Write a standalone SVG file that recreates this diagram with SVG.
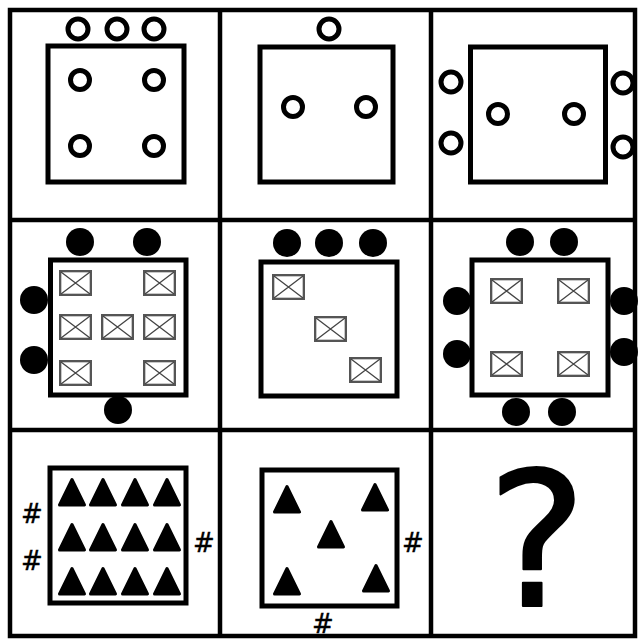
<svg xmlns="http://www.w3.org/2000/svg" width="640" height="641" viewBox="0 0 640 641">
<style>
.grid{fill:none;stroke:#000;stroke-width:4.5}
.sq{fill:#fff;stroke:#000;stroke-width:5}
.oc{fill:#fff;stroke:#000;stroke-width:5}
.fc{fill:#000}
.hash{font-family:"DejaVu Sans",sans-serif;font-size:26px;fill:#000;stroke:#000;stroke-width:0.4;text-anchor:middle}
.q{font-family:"DejaVu Sans",sans-serif;font-size:188px;fill:#000;stroke:#000;stroke-width:2;stroke-linejoin:round;text-anchor:middle}
</style>
<defs>
<g id="ico">
<rect x="0" y="0" width="31" height="24" fill="#fff" stroke="#555" stroke-width="2"/>
<rect x="1.5" y="1.5" width="28" height="21" fill="none" stroke="#bbb" stroke-width="0.8"/>
<path d="M1 1 L30 23 M30 1 L1 23" stroke="#444" stroke-width="1.3" fill="none"/>
</g>
<path id="tri" d="M0 1.5 L12.5 27 L-12.5 27 Z" fill="#000" stroke="#000" stroke-width="3" stroke-linejoin="round"/>
</defs>
<rect width="640" height="641" fill="#fff"/>
<g id="grid">
<rect class="grid" x="10" y="10" width="625" height="626"/>
<path class="grid" d="M220 10 V636 M431 10 V636 M10 220 H635 M10 430 H635"/>
</g>
<g id="cell1">
<rect class="sq" x="48" y="46" width="136" height="136"/>
<circle class="oc" cx="78" cy="29" r="10"/>
<circle class="oc" cx="117" cy="29" r="10"/>
<circle class="oc" cx="154" cy="29" r="10"/>
<circle class="oc" cx="80" cy="80" r="9.5"/>
<circle class="oc" cx="154" cy="80" r="9.5"/>
<circle class="oc" cx="80" cy="146" r="9.5"/>
<circle class="oc" cx="154" cy="146" r="9.5"/>
</g>
<g id="cell2">
<rect class="sq" x="260" y="47" width="133" height="135"/>
<circle class="oc" cx="329" cy="29" r="10"/>
<circle class="oc" cx="293" cy="107" r="9.5"/>
<circle class="oc" cx="366" cy="107" r="9.5"/>
</g>
<g id="cell3">
<rect class="sq" x="470.5" y="47" width="135" height="135"/>
<circle class="oc" cx="451" cy="82" r="10"/>
<circle class="oc" cx="451" cy="143" r="10"/>
<circle class="oc" cx="623" cy="83" r="10"/>
<circle class="oc" cx="623" cy="147" r="10"/>
<circle class="oc" cx="498" cy="114" r="9.5"/>
<circle class="oc" cx="574" cy="114" r="9.5"/>
</g>
<g id="cell4">
<rect class="sq" x="50.5" y="260" width="135.5" height="135"/>
<circle class="fc" cx="80" cy="242" r="14"/>
<circle class="fc" cx="147" cy="242" r="14"/>
<circle class="fc" cx="34" cy="300" r="14"/>
<circle class="fc" cx="34" cy="360" r="14"/>
<circle class="fc" cx="118" cy="410" r="14"/>
<use href="#ico" x="60" y="271"/>
<use href="#ico" x="144" y="271"/>
<use href="#ico" x="60" y="315"/>
<use href="#ico" x="102" y="315"/>
<use href="#ico" x="144" y="315"/>
<use href="#ico" x="60" y="361"/>
<use href="#ico" x="144" y="361"/>
</g>
<g id="cell5">
<rect class="sq" x="261" y="262" width="136" height="134"/>
<circle class="fc" cx="287" cy="243" r="14"/>
<circle class="fc" cx="329" cy="243" r="14"/>
<circle class="fc" cx="373" cy="243" r="14"/>
<use href="#ico" x="273" y="275"/>
<use href="#ico" x="315" y="317"/>
<use href="#ico" x="350" y="358"/>
</g>
<g id="cell6">
<rect class="sq" x="472" y="260" width="136" height="135"/>
<circle class="fc" cx="520" cy="242" r="14"/>
<circle class="fc" cx="564" cy="242" r="14"/>
<circle class="fc" cx="457" cy="301" r="14"/>
<circle class="fc" cx="457" cy="354" r="14"/>
<circle class="fc" cx="624" cy="301" r="14"/>
<circle class="fc" cx="624" cy="352" r="14"/>
<circle class="fc" cx="516" cy="412" r="14"/>
<circle class="fc" cx="562" cy="412" r="14"/>
<use href="#ico" x="491" y="279"/>
<use href="#ico" x="558" y="279"/>
<use href="#ico" x="491" y="352"/>
<use href="#ico" x="558" y="352"/>
</g>
<g id="cell7">
<rect class="sq" x="50" y="468" width="136" height="135"/>
<use href="#tri" x="72" y="478"/>
<use href="#tri" x="103" y="478"/>
<use href="#tri" x="135" y="478"/>
<use href="#tri" x="167" y="478"/>
<use href="#tri" x="72" y="523"/>
<use href="#tri" x="103" y="523"/>
<use href="#tri" x="135" y="523"/>
<use href="#tri" x="167" y="523"/>
<use href="#tri" x="72" y="567"/>
<use href="#tri" x="103" y="567"/>
<use href="#tri" x="135" y="567"/>
<use href="#tri" x="167" y="567"/>
<text class="hash" x="32" y="523">#</text>
<text class="hash" x="32" y="570">#</text>
<text class="hash" x="204" y="552">#</text>
</g>
<g id="cell8">
<rect class="sq" x="262" y="470" width="135" height="136"/>
<use href="#tri" x="287" y="485"/>
<use href="#tri" x="375" y="483"/>
<use href="#tri" x="331" y="520"/>
<use href="#tri" x="287" y="567"/>
<use href="#tri" x="376" y="564"/>
<text class="hash" x="413" y="552">#</text>
<text class="hash" x="323" y="633">#</text>
</g>
<g id="cell9">
<text class="q" x="537" y="606">?</text>
</g>
</svg>
